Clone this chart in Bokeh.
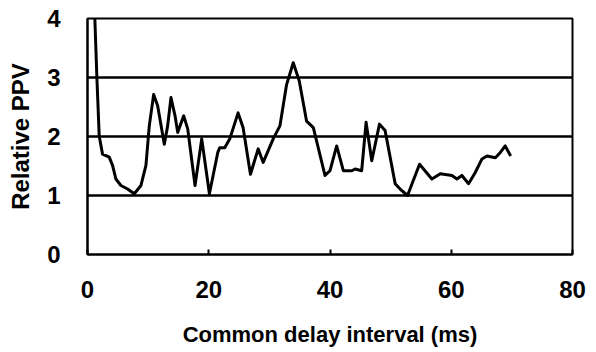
from bokeh.plotting import figure
from bokeh.models import Range1d, FixedTicker
from bokeh.embed import file_html
from bokeh.resources import INLINE

# Relative PPV versus common delay interval
delay_ms = [1.21, 1.54, 1.93, 2.48, 3.58, 4.13, 4.68, 5.51, 6.61, 7.71, 8.82, 9.64,
            10.19, 10.91, 11.57, 12.67, 13.22, 13.77, 14.44, 14.88, 15.87, 16.53,
            17.74, 18.84, 20.11, 21.49, 21.82, 22.64, 23.47, 24.84, 25.67, 26.88,
            28.15, 28.98, 30.63, 31.74, 32.84, 33.94, 34.93, 36.14, 37.25, 39.17,
            40.0, 41.1, 42.2, 43.6, 44.13, 45.23, 45.95, 46.89, 48.16, 49.09, 50.75,
            51.57, 52.79, 54.77, 56.8, 58.2, 60.11, 60.94, 61.76, 62.86, 63.96,
            65.07, 65.89, 67.27, 68.1, 68.9, 69.8]
relative_ppv = [4.0, 3.02, 2.01, 1.70, 1.65, 1.51, 1.28, 1.17, 1.11, 1.03, 1.17, 1.51,
                2.18, 2.71, 2.52, 1.87, 2.18, 2.66, 2.35, 2.07, 2.35, 2.13,
                1.17, 1.96, 1.03, 1.73, 1.81, 1.81, 1.96, 2.40, 2.15, 1.36,
                1.79, 1.56, 1.96, 2.18, 2.88, 3.25, 2.94, 2.26, 2.15, 1.34,
                1.42, 1.84, 1.42, 1.42, 1.45, 1.42, 2.24, 1.59, 2.21, 2.10, 1.20,
                1.11, 1.0, 1.53, 1.28, 1.37, 1.34, 1.28, 1.34, 1.20, 1.39,
                1.62, 1.67, 1.64, 1.73, 1.84, 1.67]

x_ticks = [0, 20, 40, 60, 80]
y_ticks = [0, 1, 2, 3, 4]

FONT = "Liberation Sans"

p = figure(width=596, height=352, output_backend="svg", toolbar_location=None,
           x_range=Range1d(0, 80), y_range=Range1d(0, 4))
p.min_border_left = 87
p.min_border_right = 24
p.min_border_top = 18
p.min_border_bottom = 98
p.background_fill_color = "white"
p.border_fill_color = "white"
p.outline_line_color = "black"
p.outline_line_width = 2

p.xgrid.visible = False
p.ygrid.ticker = FixedTicker(ticks=[1, 2, 3])
p.ygrid.grid_line_color = "black"
p.ygrid.grid_line_width = 2.5

p.xaxis.ticker = FixedTicker(ticks=x_ticks)
p.yaxis.ticker = FixedTicker(ticks=y_ticks)
for ax in (p.xaxis[0], p.yaxis[0]):
    ax.axis_line_color = "black"
    ax.axis_line_width = 2
    ax.minor_tick_line_color = None
    ax.major_label_text_font = FONT
    ax.major_label_text_font_style = "bold"
    ax.major_label_text_font_size = "24px"
    ax.major_label_text_color = "black"
    ax.axis_label_text_font = FONT
    ax.axis_label_text_font_style = "bold"
    ax.axis_label_text_color = "black"

p.xaxis.major_tick_in = 5
p.xaxis.major_tick_out = 0
p.xaxis.major_tick_line_color = "black"
p.xaxis.major_tick_line_width = 2
p.xaxis.major_label_standoff = 26
p.xaxis.axis_label = "Common delay interval (ms)"
p.xaxis.axis_label_text_font_size = "22px"
p.xaxis.axis_label_standoff = 21

p.yaxis.major_tick_in = 0
p.yaxis.major_tick_out = 0
p.yaxis.major_label_standoff = 27
p.yaxis.axis_label = "Relative PPV"
p.yaxis.axis_label_text_font_size = "24px"
p.yaxis.axis_label_standoff = 10

p.line(delay_ms, relative_ppv, line_color="black", line_width=3, line_join="round")

open("out.html", "w").write(file_html(p, INLINE))
